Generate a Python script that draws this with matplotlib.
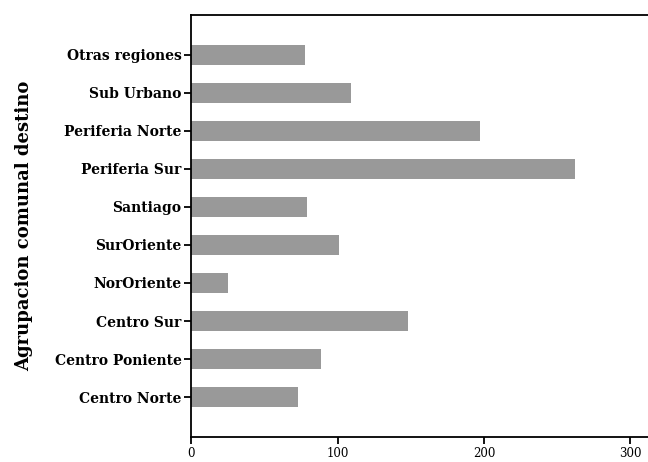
import matplotlib
matplotlib.use("Agg")
import matplotlib.pyplot as plt

# categories, bottom to top
categories = [
    'Centro Norte',
    'Centro Poniente',
    'Centro Sur',
    'NorOriente',
    'SurOriente',
    'Santiago',
    'Periferia Sur',
    'Periferia Norte',
    'Sub Urbano',
    'Otras regiones',
]
values = [73, 89, 148, 25, 101, 79, 262, 197, 109, 78]
x_ticks = [0, 100, 200, 300]

plt.rcParams['font.family'] = ['DejaVu Serif']

fig = plt.figure(figsize=(6.48, 4.62), dpi=100)
ax = fig.add_axes([0.295, 0.054, 0.705, 0.914])

ax.barh(range(len(categories)), values, height=0.53, color='#999999')

ax.set_xlim(0, 312)
ax.set_ylim(-1.05, 10.05)
ax.set_xticks(x_ticks)
ax.set_xticklabels([str(t) for t in x_ticks], fontsize=8.5)
ax.set_yticks(range(len(categories)))
ax.set_yticklabels(categories, fontsize=10, fontweight='bold')
ax.set_ylabel('Agrupacion comunal destino', fontsize=13, fontweight='bold')
ax.yaxis.set_label_coords(-0.345, 0.5)

ax.spines['right'].set_visible(False)
for s in ['left', 'bottom', 'top']:
    ax.spines[s].set_linewidth(1.3)
ax.tick_params(axis='both', direction='out', length=5, width=1.3, pad=2)

fig.savefig('out.png', dpi=100)
